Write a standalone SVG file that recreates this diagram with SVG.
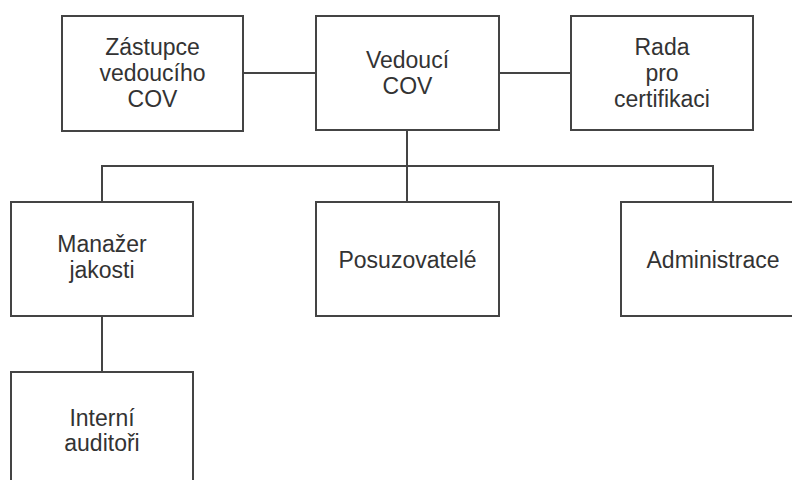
<svg xmlns="http://www.w3.org/2000/svg" width="792" height="480" viewBox="0 0 792 480">
<style>
.box{fill:#ffffff;stroke:#444444;stroke-width:2}
.ln{fill:none;stroke:#444444;stroke-width:2}
text{font-family:"Liberation Sans",Arial,sans-serif;font-size:23px;fill:#333333;text-anchor:middle}
</style>
<rect width="792" height="480" fill="#ffffff"/>
<g id="connectors">
<line class="ln" x1="243" y1="73" x2="316" y2="73"/>
<line class="ln" x1="499" y1="73" x2="571" y2="73"/>
<line class="ln" x1="407" y1="130" x2="407" y2="202"/>
<polyline class="ln" points="102,202 102,166 713,166 713,202"/>
<line class="ln" x1="102" y1="316" x2="102" y2="372"/>
</g>
<g id="zastupce">
<rect class="box" x="62" y="16" width="181" height="115"/>
<text x="152.5" y="55">Zástupce</text>
<text x="152.5" y="81">vedoucího</text>
<text x="152.5" y="107">COV</text>
</g>
<g id="vedouci">
<rect class="box" x="316" y="16" width="183" height="114"/>
<text x="407.5" y="68">Vedoucí</text>
<text x="407.5" y="94">COV</text>
</g>
<g id="rada">
<rect class="box" x="571" y="16" width="182" height="114"/>
<text x="662" y="55">Rada</text>
<text x="662" y="81">pro</text>
<text x="662" y="107">certifikaci</text>
</g>
<g id="manazer">
<rect class="box" x="11" y="202" width="182" height="114"/>
<text x="102" y="252">Manažer</text>
<text x="102" y="278">jakosti</text>
</g>
<g id="posuzovatele">
<rect class="box" x="316" y="202" width="183" height="114"/>
<text x="407.5" y="268">Posuzovatelé</text>
</g>
<g id="administrace">
<rect class="box" x="621" y="202" width="184" height="114"/>
<text x="713" y="268">Administrace</text>
</g>
<g id="interni">
<rect class="box" x="11" y="372" width="182" height="120"/>
<text x="102" y="426">Interní</text>
<text x="102" y="451">auditoři</text>
</g>
</svg>
